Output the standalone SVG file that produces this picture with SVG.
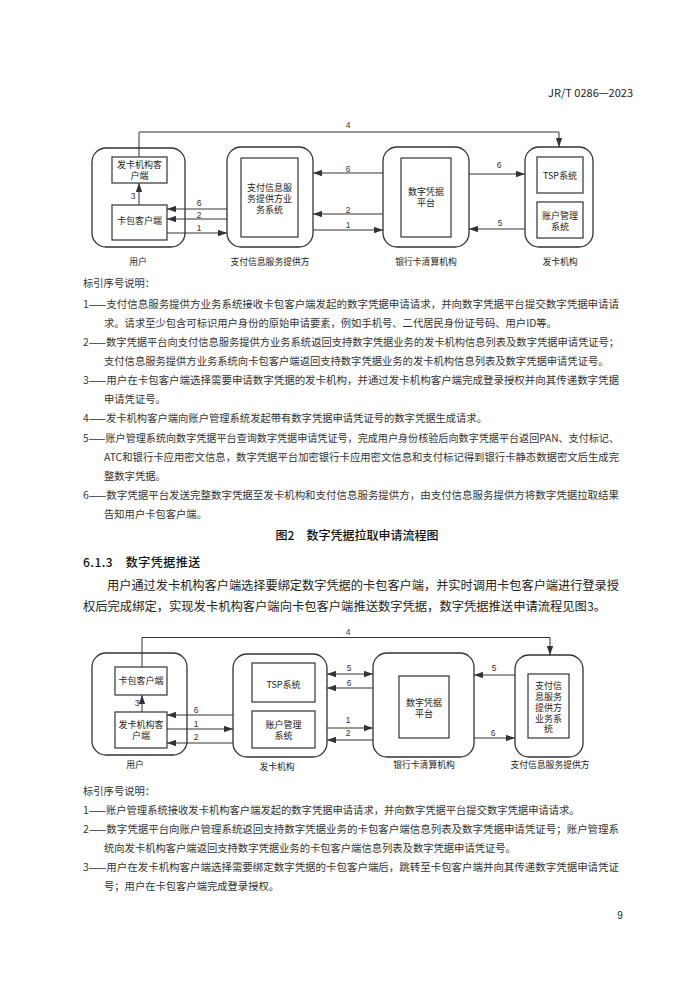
<svg xmlns="http://www.w3.org/2000/svg" width="700" height="990" viewBox="0 0 700 990">
<defs>
<marker id="ah" markerUnits="userSpaceOnUse" markerWidth="9" markerHeight="7" refX="9" refY="3.5" orient="auto-start-reverse">
<path d="M0,0.3 L9,3.5 L0,6.7 z" fill="#333"/>
</marker>
<style>
.box{fill:#fff;stroke:#333;stroke-width:1.3}
.inner{fill:#fff;stroke:#333;stroke-width:1.2}
.t{font-family:"Noto Sans CJK SC",sans-serif;font-size:9px;fill:#222;text-anchor:middle}
.lbl{font-family:"Noto Sans CJK SC",sans-serif;font-size:8.8px;fill:#222;text-anchor:middle}
.num{font-family:"Liberation Sans","Noto Sans CJK SC",sans-serif;font-size:8.5px;fill:#333;text-anchor:middle}
.ln{stroke:#333;stroke-width:1;fill:none;marker-end:url(#ah)}
.both{marker-start:url(#ah)}
.body{font-family:"Noto Sans CJK SC",sans-serif;font-size:10.3px;fill:#333}
.para{font-family:"Noto Sans CJK SC",sans-serif;font-size:12.2px;fill:#222}
.head{font-family:"Noto Sans CJK SC",sans-serif;font-size:12px;fill:#111;font-weight:500}
</style>
</defs>
<rect width="700" height="990" fill="#fff"/>
<text x="633" y="97" font-family="'Noto Sans CJK SC',sans-serif" font-size="11" fill="#222" text-anchor="end">JR/T 0286—2023</text>

<!-- Figure 2 -->
<g id="f2-user">
<rect class="box" x="92" y="148" width="93" height="99" rx="14"/>
<rect class="inner" x="112" y="157" width="55" height="26"/>
<text class="t"><tspan x="139.5" y="167.5">发卡机构客</tspan><tspan x="139.5" y="178.5">户端</tspan></text>
<rect class="inner" x="112" y="205" width="55" height="35"/>
<text class="t" x="139.5" y="223.5">卡包客户端</text>
<text class="lbl" x="138" y="265">用户</text>
</g>
<g id="f2-pay">
<rect class="box" x="227" y="147" width="86" height="100" rx="14"/>
<rect class="inner" x="241" y="158" width="57" height="79"/>
<text class="t"><tspan x="269.5" y="190.5">支付信息服</tspan><tspan x="269.5" y="201.5">务提供方业</tspan><tspan x="269.5" y="212.5">务系统</tspan></text>
<text class="lbl" x="270" y="265">支付信息服务提供方</text>
</g>
<g id="f2-clr">
<rect class="box" x="383" y="147" width="86" height="100" rx="14"/>
<rect class="inner" x="401" y="158" width="50" height="79"/>
<text class="t"><tspan x="426" y="195">数字凭据</tspan><tspan x="426" y="206">平台</tspan></text>
<text class="lbl" x="426" y="265">银行卡清算机构</text>
</g>
<g id="f2-iss">
<rect class="box" x="525" y="147" width="68" height="100" rx="14"/>
<rect class="inner" x="537" y="157" width="46" height="36"/>
<text class="t" x="560" y="178.5" font-size="8.5">TSP系统</text>
<rect class="inner" x="537" y="202" width="46" height="36"/>
<text class="t"><tspan x="560" y="219">账户管理</tspan><tspan x="560" y="230">系统</tspan></text>
<text class="lbl" x="560" y="265">发卡机构</text>
</g>
<g id="f2-connectors">
<path class="ln" d="M139,205 V183"/>
<path class="ln" d="M139,157 V132 H559 V147"/>
<path class="ln" d="M227,209 H167"/>
<path class="ln" d="M227,219 H167"/>
<path class="ln" d="M167,233 H227"/>
<path class="ln" d="M383,173 H313"/>
<path class="ln" d="M383,214 H313"/>
<path class="ln" d="M313,230 H383"/>
<path class="ln" d="M469,174 H525"/>
<path class="ln" d="M525,229 H469"/>
<text class="num" x="133" y="199">3</text>
<text class="num" x="348" y="128">4</text>
<text class="num" x="199" y="206">6</text>
<text class="num" x="199" y="217.5">2</text>
<text class="num" x="199" y="231">1</text>
<text class="num" x="348" y="171.5">6</text>
<text class="num" x="348" y="213">2</text>
<text class="num" x="348" y="228">1</text>
<text class="num" x="499" y="168">6</text>
<text class="num" x="500" y="226">5</text>
</g>

<g id="legend2">
<text class="body" x="83" y="287">标引序号说明：</text>
<text class="body" x="83" y="308" textLength="536" lengthAdjust="spacingAndGlyphs">1——支付信息服务提供方业务系统接收卡包客户端发起的数字凭据申请请求，并向数字凭据平台提交数字凭据申请请</text>
<text class="body" x="104" y="327">求。请求至少包含可标识用户身份的原始申请要素，例如手机号、二代居民身份证号码、用户ID等。</text>
<text class="body" x="83" y="346" textLength="536" lengthAdjust="spacingAndGlyphs">2——数字凭据平台向支付信息服务提供方业务系统返回支持数字凭据业务的发卡机构信息列表及数字凭据申请凭证号；</text>
<text class="body" x="104" y="365">支付信息服务提供方业务系统向卡包客户端返回支持数字凭据业务的发卡机构信息列表及数字凭据申请凭证号。</text>
<text class="body" x="83" y="384" textLength="536" lengthAdjust="spacingAndGlyphs">3——用户在卡包客户端选择需要申请数字凭据的发卡机构，并通过发卡机构客户端完成登录授权并向其传递数字凭据</text>
<text class="body" x="104" y="403">申请凭证号。</text>
<text class="body" x="83" y="422">4——发卡机构客户端向账户管理系统发起带有数字凭据申请凭证号的数字凭据生成请求。</text>
<text class="body" x="83" y="442" textLength="536" lengthAdjust="spacingAndGlyphs">5——账户管理系统向数字凭据平台查询数字凭据申请凭证号，完成用户身份核验后向数字凭据平台返回PAN、支付标记、</text>
<text class="body" x="104" y="461" textLength="515" lengthAdjust="spacingAndGlyphs">ATC和银行卡应用密文信息，数字凭据平台加密银行卡应用密文信息和支付标记得到银行卡静态数据密文后生成完</text>
<text class="body" x="104" y="480">整数字凭据。</text>
<text class="body" x="83" y="499" textLength="536" lengthAdjust="spacingAndGlyphs">6——数字凭据平台发送完整数字凭据至发卡机构和支付信息服务提供方，由支付信息服务提供方将数字凭据拉取结果</text>
<text class="body" x="104" y="518">告知用户卡包客户端。</text>
</g>

<text class="head" x="357" y="540" text-anchor="middle">图2　数字凭据拉取申请流程图</text>
<text class="head" x="83" y="567" letter-spacing="0.5">6.1.3　数字凭据推送</text>
<text class="para" x="107" y="590" textLength="512" lengthAdjust="spacingAndGlyphs">用户通过发卡机构客户端选择要绑定数字凭据的卡包客户端，并实时调用卡包客户端进行登录授</text>
<text class="para" x="83" y="611" textLength="523" lengthAdjust="spacingAndGlyphs">权后完成绑定，实现发卡机构客户端向卡包客户端推送数字凭据，数字凭据推送申请流程见图3。</text>

<!-- Figure 3 -->
<g id="f3-user">
<rect class="box" x="92" y="653" width="95" height="102" rx="14"/>
<rect class="inner" x="115" y="667" width="52" height="28"/>
<text class="t" x="141" y="684">卡包客户端</text>
<rect class="inner" x="115" y="712" width="52" height="36"/>
<text class="t"><tspan x="141" y="727.5">发卡机构客</tspan><tspan x="141" y="738.5">户端</tspan></text>
<text class="lbl" x="135" y="768">用户</text>
</g>
<g id="f3-iss">
<rect class="box" x="233" y="654" width="94" height="103" rx="14"/>
<rect class="inner" x="252" y="663" width="63" height="39"/>
<text class="t" x="283.5" y="688" font-size="8.5">TSP系统</text>
<rect class="inner" x="252" y="711" width="63" height="37"/>
<text class="t"><tspan x="283.5" y="727.5">账户管理</tspan><tspan x="283.5" y="738.5">系统</tspan></text>
<text class="lbl" x="277" y="770">发卡机构</text>
</g>
<g id="f3-clr">
<rect class="box" x="373" y="653" width="101" height="104" rx="14"/>
<rect class="inner" x="399" y="676" width="50" height="62"/>
<text class="t"><tspan x="424" y="706">数字凭据</tspan><tspan x="424" y="717">平台</tspan></text>
<text class="lbl" x="424" y="768">银行卡清算机构</text>
</g>
<g id="f3-pay">
<rect class="box" x="515" y="655" width="68" height="102" rx="14"/>
<rect class="inner" x="528" y="674" width="41" height="64"/>
<text class="t"><tspan x="548.5" y="688.5">支付信</tspan><tspan x="548.5" y="699.5">息服务</tspan><tspan x="548.5" y="710.5">提供方</tspan><tspan x="548.5" y="721.5">业务系</tspan><tspan x="548.5" y="732">统</tspan></text>
<text class="lbl" x="550" y="768">支付信息服务提供方</text>
</g>
<g id="f3-connectors">
<path class="ln" d="M142,712 V695"/>
<path class="ln" d="M142,667 V637.5 H550 V655"/>
<path class="ln" d="M233,715 H167"/>
<path class="ln" d="M167,729 H233"/>
<path class="ln" d="M233,743 H167"/>
<path class="ln both" d="M327,674 H373"/>
<path class="ln" d="M373,688 H327"/>
<path class="ln" d="M327,728 H373"/>
<path class="ln" d="M373,740 H327"/>
<path class="ln" d="M515,675 H474"/>
<path class="ln" d="M474,738 H515"/>
<text class="num" x="137" y="706">3</text>
<text class="num" x="348" y="635">4</text>
<text class="num" x="196" y="713">6</text>
<text class="num" x="196" y="727">1</text>
<text class="num" x="196" y="740">2</text>
<text class="num" x="349" y="671">5</text>
<text class="num" x="349" y="686">6</text>
<text class="num" x="348" y="723">1</text>
<text class="num" x="348" y="736">2</text>
<text class="num" x="494" y="671">5</text>
<text class="num" x="493" y="736">6</text>
</g>

<g id="legend3">
<text class="body" x="83" y="795">标引序号说明：</text>
<text class="body" x="83" y="814">1——账户管理系统接收发卡机构客户端发起的数字凭据申请请求，并向数字凭据平台提交数字凭据申请请求。</text>
<text class="body" x="83" y="833" textLength="536" lengthAdjust="spacingAndGlyphs">2——数字凭据平台向账户管理系统返回支持数字凭据业务的卡包客户端信息列表及数字凭据申请凭证号；账户管理系</text>
<text class="body" x="104" y="852">统向发卡机构客户端返回支持数字凭据业务的卡包客户端信息列表及数字凭据申请凭证号。</text>
<text class="body" x="83" y="871" textLength="536" lengthAdjust="spacingAndGlyphs">3——用户在发卡机构客户端选择需要绑定数字凭据的卡包客户端后，跳转至卡包客户端并向其传递数字凭据申请凭证</text>
<text class="body" x="104" y="890">号；用户在卡包客户端完成登录授权。</text>
</g>
<text x="620" y="919" font-family="'Liberation Sans',sans-serif" font-size="10" fill="#222" text-anchor="middle">9</text>
</svg>
